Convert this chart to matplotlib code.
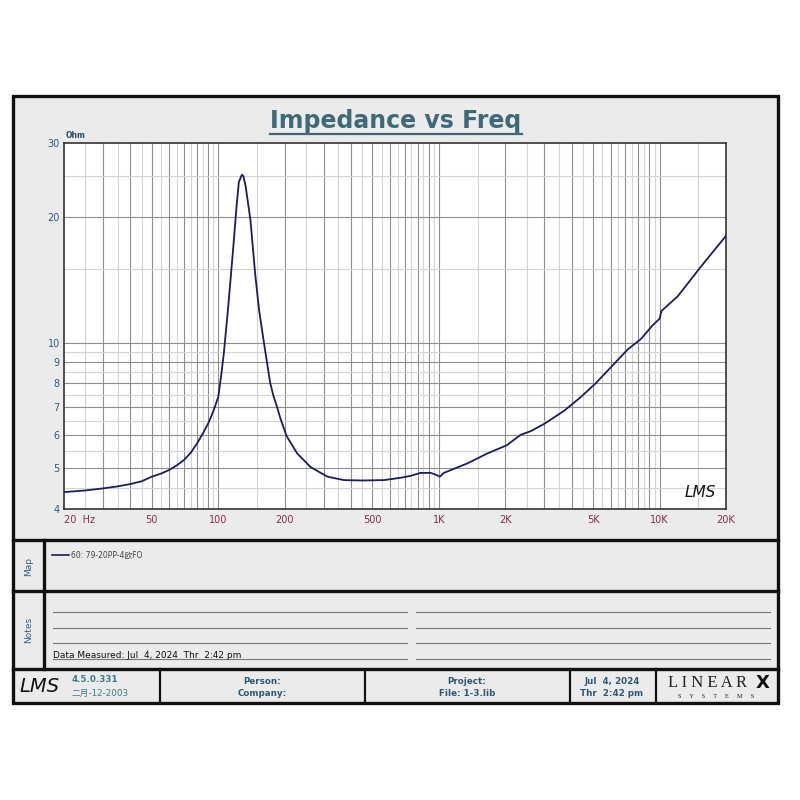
import matplotlib
matplotlib.use("Agg")
import matplotlib.pyplot as plt
from matplotlib.lines import Line2D
from matplotlib.patches import Rectangle

plt.rcParams['font.family'] = ['DejaVu Sans', 'Noto Sans CJK SC']

# impedance curve
freq_hz = [20, 25, 30, 35, 40, 45, 50, 55, 60, 65, 70, 75, 80, 85, 90, 95, 100,
           103, 106, 111, 117, 121, 124, 128, 130, 133, 140, 147, 153, 158, 163,
           172, 178, 185, 191, 204, 228, 262, 312, 371, 450, 564, 670, 744, 826,
           917, 960, 1010, 1053, 1344, 1657, 2028, 2350, 2609, 2998, 3694, 4398,
           5145, 6230, 7161, 8234, 9303, 10000, 10200, 12085, 15413, 20000]
impedance_ohm = [4.39, 4.43, 4.48, 4.53, 4.59, 4.66, 4.78, 4.86, 4.96, 5.09, 5.24,
                 5.45, 5.73, 6.05, 6.40, 6.85, 7.41, 8.3, 9.42, 12.2, 16.9, 21.1,
                 24.2, 25.2, 25.0, 23.7, 19.6, 14.6, 12.0, 10.7, 9.6, 8.0, 7.45, 7.0,
                 6.6, 5.98, 5.43, 5.04, 4.78, 4.69, 4.68, 4.69, 4.75, 4.8, 4.88, 4.88,
                 4.84, 4.78, 4.88, 5.14, 5.43, 5.68, 6.02, 6.14, 6.39, 6.87, 7.41,
                 8.0, 8.9, 9.62, 10.2, 11.0, 11.4, 11.9, 12.9, 15.2, 18.0]

x_ticks = [20, 50, 100, 200, 500, 1000, 2000, 5000, 10000, 20000]
x_tick_labels = ["20  Hz", "50", "100", "200", "500", "1K", "2K", "5K", "10K", "20K"]
y_ticks = [4, 5, 6, 7, 8, 9, 10, 20, 30]
y_tick_labels = ["4", "5", "6", "7", "8", "9", "10", "20", "30"]

legend_label = "60: 79-20PP-4欧FO"
notes_text = "Data Measured: Jul  4, 2024  Thr  2:42 pm"

W = H = 800.0
def fx(px):
    return px / W
def fy(py):
    return 1 - py / H

fig = plt.figure(figsize=(8, 8), dpi=100)
fig.patch.set_facecolor("white")

panel_bg = "#ebebeb"
frame_col = "#111111"
text_blue = "#2c5878"

# outer frame
fig.patches.append(Rectangle((fx(13), fy(703)), fx(778) - fx(13), fy(96) - fy(703),
                             transform=fig.transFigure, facecolor=panel_bg,
                             edgecolor=frame_col, linewidth=2.4, zorder=-10))

def hline(y, x0, x1, lw=2.4, color=frame_col):
    fig.lines.append(Line2D([fx(x0), fx(x1)], [fy(y), fy(y)], transform=fig.transFigure,
                            color=color, linewidth=lw))

def vline(x, y0, y1, lw=2.4, color=frame_col):
    fig.lines.append(Line2D([fx(x), fx(x)], [fy(y0), fy(y1)], transform=fig.transFigure,
                            color=color, linewidth=lw))

hline(540, 13, 778)
hline(591, 13, 778)
hline(669, 13, 778)
vline(44, 540, 669)
for xv in [160, 365, 570, 656]:
    vline(xv, 669, 703, lw=1.6)

# title
fig.text(fx(396), fy(121), "Impedance vs Freq", ha="center", va="center",
         fontsize=17, fontweight="heavy", color="#3e6a78")
hline(134, 270, 522, lw=1.6, color="#3e6a78")

# main plot
ax = fig.add_axes([fx(64), fy(509), fx(726) - fx(64), fy(143) - fy(509)])
ax.set_facecolor("white")
ax.set_xscale("log")
ax.set_yscale("log")
ax.set_xlim(20, 20000)
ax.set_ylim(4, 30)

dark_x = [m * 10 ** e for e in range(1, 5) for m in range(1, 10)]
light_x = [(m + 0.5) * 10 ** e for e in range(1, 5) for m in range(1, 10)]
for v in light_x:
    if 20 < v < 20000:
        ax.axvline(v, color="#d4d4d4", linewidth=0.8, zorder=1)
for v in dark_x:
    if 20 < v < 20000:
        ax.axvline(v, color="#8e8e8e", linewidth=0.8, zorder=1)
dark_y = [5, 6, 7, 8, 9, 10, 20]
light_y = [4.5, 5.5, 6.5, 7.5, 8.5, 9.5, 15, 25]
for v in light_y:
    ax.axhline(v, color="#d4d4d4", linewidth=0.8, zorder=1)
for v in dark_y:
    ax.axhline(v, color="#8e8e8e", linewidth=0.8, zorder=1)

ax.plot(freq_hz, impedance_ohm, color="#1c1c5e", linewidth=1.3, zorder=3)

ax.xaxis.set_minor_locator(matplotlib.ticker.NullLocator())
ax.yaxis.set_minor_locator(matplotlib.ticker.NullLocator())
ax.set_xticks(x_ticks)
ax.set_xticklabels(x_tick_labels)
ax.set_yticks(y_ticks)
ax.set_yticklabels(y_tick_labels)
ax.tick_params(axis="x", length=0, pad=4, labelsize=7, labelcolor="#8a2a4a")
ax.tick_params(axis="y", length=0, pad=3, labelsize=7, labelcolor="#2a5a8a")
ax.get_xticklabels()[0].set_horizontalalignment("left")
ax.get_xticklabels()[0].set_x(17.6)
for s in ax.spines.values():
    s.set_color("#333333")
    s.set_linewidth(1.2)

fig.text(fx(66), fy(136), "Ohm", fontsize=5.5, fontweight="bold", color="#2a4a6a",
         ha="left", va="center")
ax.text(0.985, 0.025, "LMS", transform=ax.transAxes, ha="right", va="bottom",
        fontsize=11, fontstyle="italic", fontweight="light", color="#111111")

# map section
fig.text(fx(29), fy(566), "Map", rotation=90, ha="center", va="center",
         fontsize=6.5, color="#2f5f8f")
hline(555, 52, 69, lw=1.2, color="#1c1c5e")
fig.text(fx(71), fy(555), legend_label, ha="left", va="center", fontsize=5.5,
         color="#444444")

# notes section
fig.text(fx(29), fy(630), "Notes", rotation=90, ha="center", va="center",
         fontsize=6.5, color="#2f5f8f")
for yv in [612, 628, 643, 659]:
    hline(yv, 53, 407, lw=0.8, color="#777777")
    hline(yv, 416, 770, lw=0.8, color="#777777")
fig.text(fx(53), fy(655), notes_text, ha="left", va="center", fontsize=6.5,
         color="#111111")

# footer
fig.text(fx(40), fy(687), "LMS", ha="center", va="center", fontsize=14,
         fontstyle="italic", color="#111111")
fig.text(fx(72), fy(680), "4.5.0.331", ha="left", va="center", fontsize=6.3,
         fontweight="bold", color="#3a7a8c")
fig.text(fx(72), fy(693), "二月-12-2003", ha="left", va="center", fontsize=6.3,
         color="#3a7a8c")
footer_cells = [(262, "Person:", "Company:"),
                (467, "Project:", "File: 1-3.lib"),
                (612, "Jul  4, 2024", "Thr  2:42 pm")]
for xc, top, bottom in footer_cells:
    fig.text(fx(xc), fy(681), top, ha="center", va="center", fontsize=6.3,
             fontweight="bold", color=text_blue)
    fig.text(fx(xc), fy(693), bottom, ha="center", va="center", fontsize=6.3,
             fontweight="bold", color=text_blue)
fig.text(fx(708), fy(683), "L I N E A R", ha="center", va="center", fontsize=12,
         family="Liberation Serif", color="#222222")
fig.text(fx(763), fy(683), "X", ha="center", va="center", fontsize=13,
         fontweight="heavy", color="#111111")
fig.text(fx(716), fy(697), "S     Y     S     T     E     M     S", ha="center",
         va="center", fontsize=4.5, family="Liberation Serif", color="#222222")

fig.savefig("out.png", dpi=100, facecolor="white")
